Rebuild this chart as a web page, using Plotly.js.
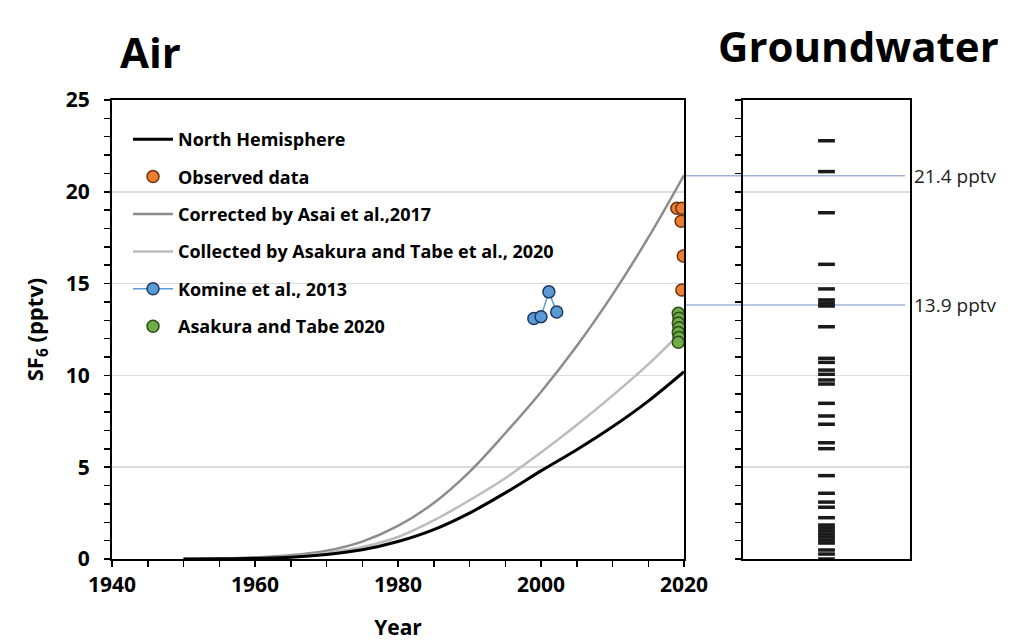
<!DOCTYPE html>
<html><head><meta charset="utf-8">
<script src="https://cdn.plot.ly/plotly-3.0.1.min.js"></script>
<style>html,body{margin:0;padding:0;background:#fff}#chart{width:1021px;height:641px}</style>
</head><body><div id="chart"></div>
<script>
// Air curves (SF6, pptv)
const years = [1950,1955,1960,1965,1970,1975,1980,1985,1990,1995,2000,2005,2010,2015,2020];
const northHemisphere = [0,0.01,0.04,0.1,0.25,0.5,0.95,1.6,2.5,3.6,4.8,5.95,7.2,8.6,10.2];
const correctedAsai = [0,0.02,0.08,0.2,0.45,0.95,1.8,3.05,4.75,6.85,9.1,11.6,14.4,17.5,20.9];
const collectedAsakura = [0,0.01,0.05,0.14,0.33,0.65,1.2,2.1,3.2,4.4,5.8,7.3,8.9,10.6,12.5];
// Point data
const observedYears = [2019.0,2019.7,2019.6,2019.9,2019.7];
const observedValues = [19.1,19.1,18.4,16.5,14.65];
const komineYears = [1999.0,2000.0,2001.1,2002.2];
const komineValues = [13.1,13.2,14.55,13.45];
const asakuraTabeYears = [2019.2,2019.3,2019.2,2019.3,2019.2,2019.3,2019.2];
const asakuraTabeValues = [13.38,13.11,12.85,12.6,12.33,12.07,11.8];
// Groundwater SF6 (pptv)
const groundwater = [22.78,21.10,18.86,16.05,14.71,14.11,13.94,13.78,12.65,10.93,10.71,10.29,10.06,9.75,9.53,8.48,7.79,7.34,6.33,6.01,4.54,3.58,3.10,2.82,2.25,1.85,1.69,1.53,1.36,1.20,1.03,0.87,0.49,0.27,0.0];
// Reference levels
const refLevels = [20.88,13.83];
const refLabels = ['21.4 pptv','13.9 pptv'];
const legendNames = ['North Hemisphere','Observed data','Corrected by Asai et al.,2017','Collected by Asakura and Tabe et al., 2020','Komine et al., 2013','Asakura and Tabe 2020'];

const F = 'Open Sans, Noto Sans, sans-serif';
const traces = [
  {x: years, y: correctedAsai, mode:'lines', line:{color:'#8c8c8c', width:2.5, shape:'spline', smoothing:1.0}, name: legendNames[2], legendrank:3, legendgroup:'g3'},
  {x: years, y: collectedAsakura, mode:'lines', line:{color:'#bcbcbc', width:2.5, shape:'spline', smoothing:1.0}, name: legendNames[3], legendrank:4, legendgroup:'g4'},
  {x: years, y: northHemisphere, mode:'lines', line:{color:'#000', width:3, shape:'spline', smoothing:1.0}, name: legendNames[0], legendrank:1, legendgroup:'g1'},
  {x: komineYears, y: komineValues, mode:'lines+markers', line:{color:'#5b9bd5', width:1.5}, marker:{size:12, color:'#5b9bd5', line:{color:'#1f3864', width:1.5}}, name: legendNames[4], legendrank:5, legendgroup:'g5'},
  {x: asakuraTabeYears, y: asakuraTabeValues, mode:'markers', marker:{size:12, color:'#70ad47', line:{color:'#2e4d1c', width:1.5}}, name: legendNames[5], legendrank:6, legendgroup:'g6'},
  {x: observedYears, y: observedValues, mode:'markers', marker:{size:12, color:'#ed7d31', line:{color:'#6b3410', width:1.5}}, name: legendNames[1], legendrank:2, legendgroup:'g2'},
  {x: groundwater.map(()=>1), y: groundwater, xaxis:'x2', yaxis:'y2', mode:'markers', marker:{symbol:'line-ew', size:12, line:{color:'#1a1a1a', width:3.5}}, showlegend:false, hoverinfo:'y'}
];

const W = 1021, H = 641;
const px = v => v / W, py = v => 1 - v / H;
const yDom = [py(559), py(100)];
const axCommon = {showline:true, linecolor:'#000', linewidth:2, mirror:true, ticks:'outside', ticklen:6, tickwidth:1.5, tickcolor:'#000', zeroline:false};

const shapes = refLevels.map(v => ({type:'line', xref:'paper', yref:'y', x0:px(684), x1:px(905), y0:v, y1:v, line:{color:'#9fb3d9', width:1.5}, layer:'below'}));
const annotations = [
  {text:'<b>Air</b>', xref:'paper', yref:'paper', x:px(150), y:py(52), xanchor:'center', yanchor:'middle', showarrow:false, font:{family:F, size:42, color:'#000'}},
  {text:'<b>Groundwater</b>', xref:'paper', yref:'paper', x:px(858), y:py(46), xanchor:'center', yanchor:'middle', showarrow:false, font:{family:F, size:42, color:'#000'}}
].concat(refLevels.map((v,i) => ({text: refLabels[i], xref:'paper', yref:'y', x:px(912), y:v, xanchor:'left', yanchor:'middle', showarrow:false, font:{family:F, size:19, color:'#222'}})));

const layout = {
  width:W, height:H, margin:{l:0, r:0, t:0, b:0}, paper_bgcolor:'#fff', plot_bgcolor:'rgba(0,0,0,0)',
  font:{family:F, color:'#000'},
  showlegend:true,
  legend:{x:px(128), y:py(121), xanchor:'left', yanchor:'top', bgcolor:'rgba(0,0,0,0)', font:{family:F, size:18, weight:'bold', color:'#000'}, traceorder:'grouped', tracegroupgap:11, itemwidth:40},
  xaxis:Object.assign({}, axCommon, {domain:[px(112), px(684)], range:[1940,2020], dtick:20, tick0:1940, showgrid:false,
    tickfont:{family:F, size:21, weight:'bold'}, minor:{dtick:5, ticks:'outside', ticklen:6, tickwidth:1.5, tickcolor:'#000', showgrid:false},
    title:{text:'<b>Year</b>', font:{family:F, size:21}, standoff:24}}),
  yaxis:Object.assign({}, axCommon, {domain:yDom, range:[0,25], dtick:5, showgrid:true, gridcolor:'#dcdcdc', gridwidth:1.5,
    tickfont:{family:F, size:21, weight:'bold'}, ticklabelstandoff:10, minor:{dtick:1, ticks:'outside', ticklen:6, tickwidth:1.5, tickcolor:'#000', showgrid:false},
    title:{text:'<b>SF<sub>6</sub> (pptv)</b>', font:{family:F, size:22}, standoff:16}}),
  xaxis2:Object.assign({}, axCommon, {domain:[px(743), px(910)], range:[0,2], ticks:'', showticklabels:false, showgrid:false, anchor:'y2'}),
  yaxis2:Object.assign({}, axCommon, {domain:yDom, range:[0,25], dtick:5, anchor:'x2', showticklabels:false, showgrid:true, gridcolor:'#dcdcdc', gridwidth:1.5,
    minor:{dtick:1, ticks:'outside', ticklen:6, tickwidth:1.5, tickcolor:'#000', showgrid:false}}),
  shapes: shapes,
  annotations: annotations
};
Plotly.newPlot('chart', traces, layout, {displayModeBar:false, staticPlot:true});
</script></body></html>
